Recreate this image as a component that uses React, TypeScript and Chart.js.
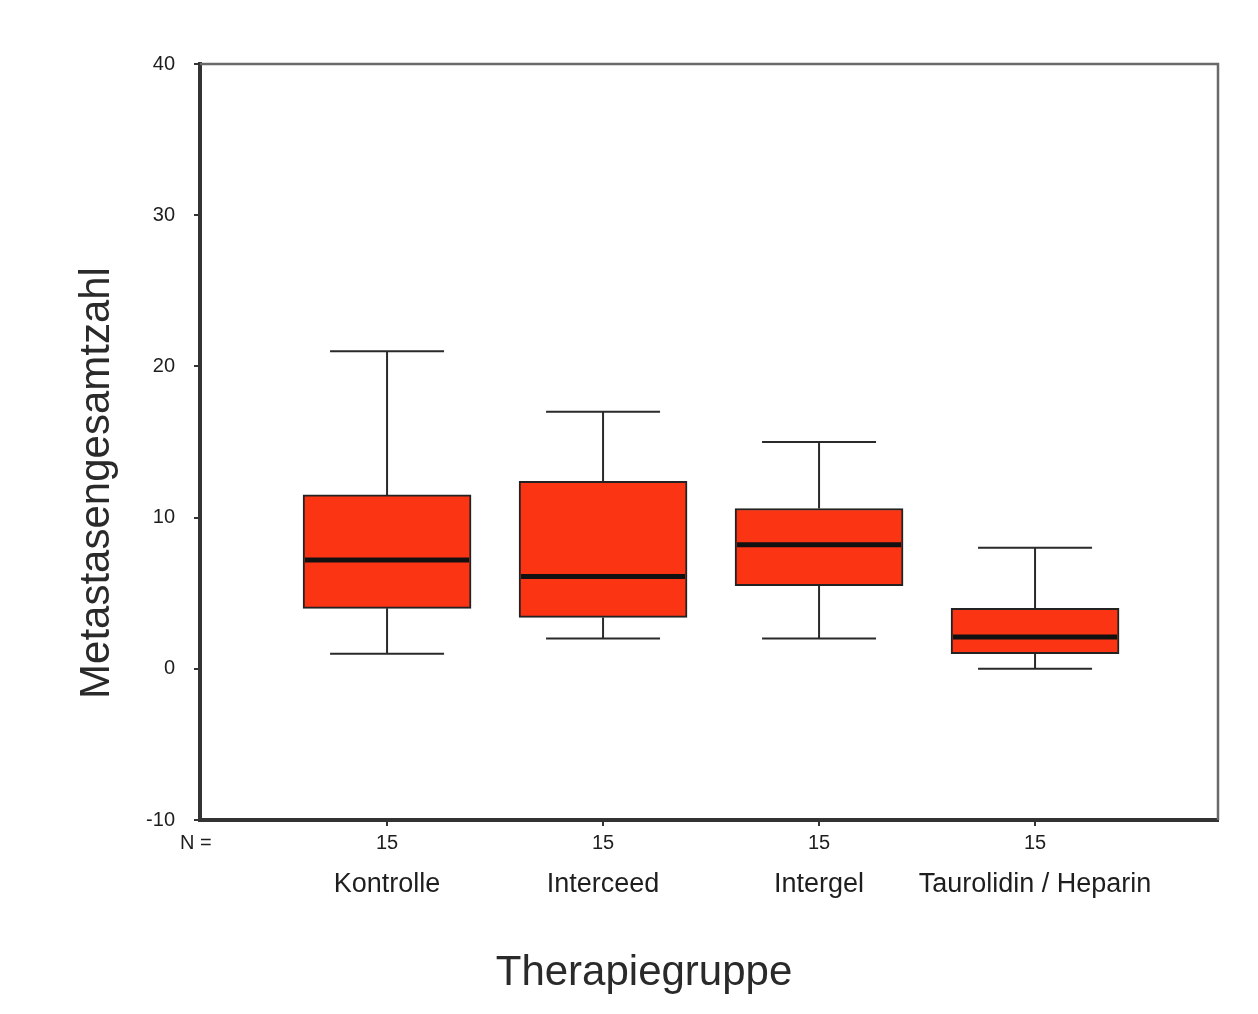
import React, { useEffect, useRef } from 'react';
import { Chart, registerables } from 'chart.js';

Chart.register(...registerables);

const categories = ['Kontrolle', 'Interceed', 'Intergel', 'Taurolidin / Heparin'];
const positions = [1, 2, 3, 4];
const groupN = [15, 15, 15, 15];
const whiskerMin = [1, 2, 2, 0];
const quartile1 = [4, 3.4, 5.5, 1];
const medians = [7.2, 6.1, 8.2, 2.1];
const quartile3 = [11.5, 12.4, 10.6, 4];
const whiskerMax = [21, 17, 15, 8];
const yTickValues = [-10, 0, 10, 20, 30, 40];

const FONT = "'Liberation Sans', Arial, sans-serif";
const BOX_W = 168;
const CAP_W = 114;

const boxPlugin = {
  id: 'boxExtras',
  beforeDatasetsDraw(chart: any) {
    const { ctx, scales } = chart;
    const x = scales.x;
    const y = scales.y;
    ctx.save();
    ctx.strokeStyle = '#2a2a2a';
    ctx.lineWidth = 2;
    positions.forEach((p, i) => {
      const px = x.getPixelForValue(p);
      const yMax = y.getPixelForValue(whiskerMax[i]);
      const yMin = y.getPixelForValue(whiskerMin[i]);
      const yQ3 = y.getPixelForValue(quartile3[i]);
      const yQ1 = y.getPixelForValue(quartile1[i]);
      ctx.beginPath();
      ctx.moveTo(px, yMax);
      ctx.lineTo(px, yQ3);
      ctx.moveTo(px, yMin);
      ctx.lineTo(px, yQ1);
      ctx.moveTo(px - CAP_W / 2, yMax);
      ctx.lineTo(px + CAP_W / 2, yMax);
      ctx.moveTo(px - CAP_W / 2, yMin);
      ctx.lineTo(px + CAP_W / 2, yMin);
      ctx.stroke();
    });
    ctx.restore();
  },
  afterDatasetsDraw(chart: any) {
    const { ctx, scales } = chart;
    const x = scales.x;
    const y = scales.y;
    ctx.save();
    ctx.strokeStyle = '#111';
    ctx.lineWidth = 5;
    positions.forEach((p, i) => {
      const px = x.getPixelForValue(p);
      const ym = y.getPixelForValue(medians[i]);
      ctx.beginPath();
      ctx.moveTo(px - BOX_W / 2 + 2, ym);
      ctx.lineTo(px + BOX_W / 2 - 2, ym);
      ctx.stroke();
    });
    ctx.restore();
  },
  afterDraw(chart: any) {
    const { ctx, chartArea, scales } = chart;
    const x = scales.x;
    ctx.save();
    // frame top & right
    ctx.strokeStyle = '#6a6a6a';
    ctx.lineWidth = 2.5;
    ctx.beginPath();
    ctx.moveTo(chartArea.left, chartArea.top);
    ctx.lineTo(chartArea.right, chartArea.top);
    ctx.lineTo(chartArea.right, chartArea.bottom);
    ctx.stroke();

    ctx.fillStyle = '#1e1e1e';
    // N row
    ctx.font = `20px ${FONT}`;
    ctx.textBaseline = 'alphabetic';
    ctx.textAlign = 'left';
    ctx.fillText('N =', 180, 849);
    ctx.textAlign = 'center';
    positions.forEach((p, i) => {
      ctx.fillText(String(groupN[i]), x.getPixelForValue(p), 849);
    });

    // x title
    ctx.font = `42px ${FONT}`;
    ctx.fillStyle = '#2a2a2a';
    ctx.textAlign = 'center';
    ctx.fillText('Therapiegruppe', 644, 985);

    // y title
    ctx.translate(109, 483);
    ctx.rotate(-Math.PI / 2);
    ctx.fillText('Metastasengesamtzahl', 0, 0);
    ctx.restore();
  },
};

export default function App() {
  const canvasRef = useRef<HTMLCanvasElement | null>(null);

  useEffect(() => {
    if (!canvasRef.current) return;
    Chart.defaults.font.family = FONT;
    Chart.defaults.color = '#1e1e1e';
    const chart = new Chart(canvasRef.current, {
      type: 'bar',
      data: {
        datasets: [
          {
            data: positions.map((p, i) => ({ x: p, y: [quartile1[i], quartile3[i]] })) as any,
            backgroundColor: '#fb3414',
            borderColor: '#222',
            borderWidth: 2,
            borderSkipped: false,
            barThickness: BOX_W,
          },
        ],
      },
      options: {
        responsive: false,
        animation: false,
        events: [],
        layout: { padding: { left: 0, right: 40, top: 64, bottom: 0 } },
        plugins: {
          legend: { display: false },
          tooltip: { enabled: false },
        },
        scales: {
          x: {
            type: 'linear',
            offset: false,
            min: 0.134,
            max: 4.847,
            afterFit: (s: any) => {
              s.height = 194;
            },
            afterBuildTicks: (s: any) => {
              s.ticks = positions.map((v) => ({ value: v }));
            },
            ticks: {
              autoSkip: false,
              maxRotation: 0,
              minRotation: 0,
              padding: 42,
              font: { size: 27 },
              color: '#1e1e1e',
              callback: (v: any) => {
                const idx = positions.indexOf(Number(v));
                return idx >= 0 ? categories[idx] : '';
              },
            },
            grid: { offset: false, drawOnChartArea: false, tickLength: 6, color: '#333', lineWidth: 2 },
            border: { display: true, color: '#333', width: 4 },
          },
          y: {
            type: 'linear',
            min: -10,
            max: 40,
            afterFit: (s: any) => {
              s.width = 200;
            },
            afterBuildTicks: (s: any) => {
              s.ticks = yTickValues.map((v) => ({ value: v }));
            },
            ticks: {
              padding: 19,
              font: { size: 20 },
              color: '#1e1e1e',
            },
            grid: { drawOnChartArea: false, tickLength: 6, color: '#333', lineWidth: 2 },
            border: { display: true, color: '#333', width: 4 },
          },
        },
      },
      plugins: [boxPlugin],
    });
    return () => chart.destroy();
  }, []);

  return (
    <div style={{ position: 'fixed', left: 0, top: 0, width: 1258, height: 1014, background: '#fff' }}>
      <canvas ref={canvasRef} width={1258} height={1014} style={{ display: 'block' }} />
    </div>
  );
}
